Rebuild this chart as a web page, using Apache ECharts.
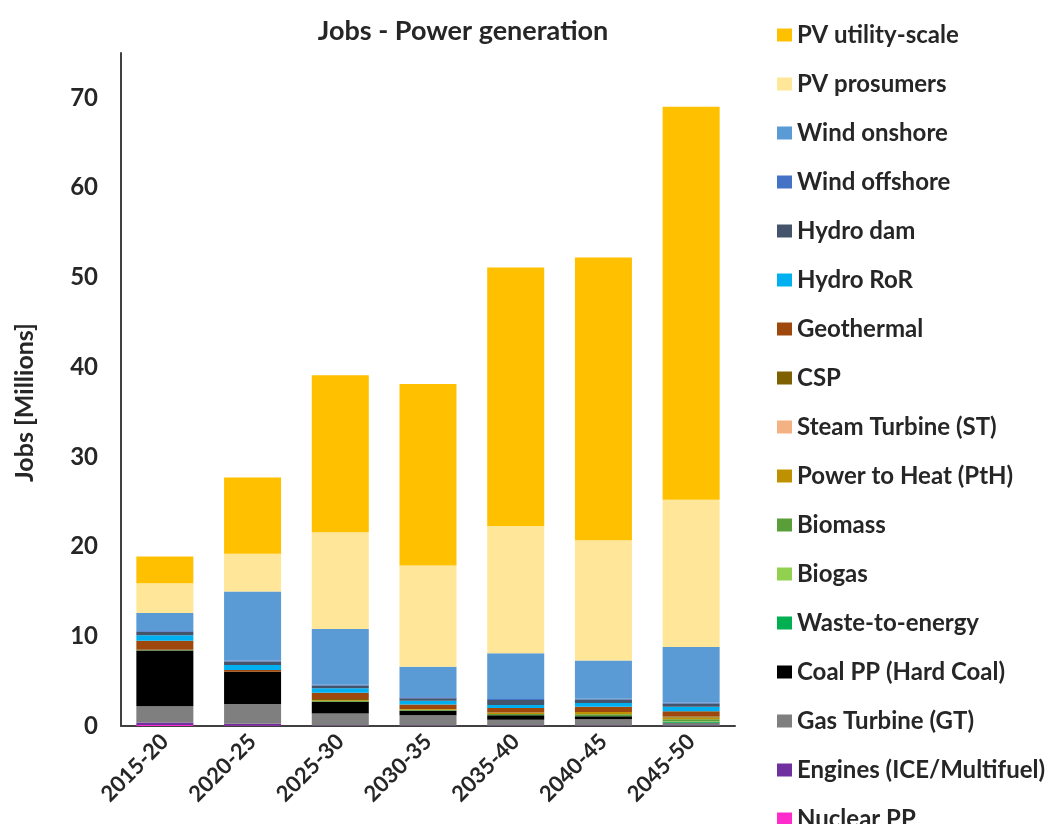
<!DOCTYPE html>
<html><head><meta charset="utf-8">
<script src="https://cdn.jsdelivr.net/npm/echarts@6/dist/echarts.min.js"></script>
<style>html,body{margin:0;padding:0;background:#fff}#c{width:1053px;height:824px}</style>
</head><body><div id="c"></div>
<script>
const categories = ['2015-20','2020-25','2025-30','2030-35','2035-40','2040-45','2045-50'];
// stacked bottom-to-top
const nuclear    = [0.1, 0.05, 0,    0,    0,    0,    0];
const engines    = [0.3, 0.2,  0.05, 0.05, 0.05, 0.05, 0.05];
const gasTurbine = [1.8, 2.2,  1.35, 1.15, 0.65, 0.7,  0.25];
const coal       = [6.2, 3.6,  1.3,  0.5,  0.5,  0.35, 0.05];
const waste      = [0,   0,    0,    0,    0,    0,    0.1];
const biogas     = [0,   0,    0,    0,    0,    0,    0.05];
const biomass    = [0.1, 0,    0.1,  0.1,  0.15, 0.2,  0.25];
const pth        = [0,   0,    0.1,  0.1,  0.15, 0.25, 0.2];
const steam      = [0,   0,    0,    0,    0,    0,    0];
const csp        = [0,   0,    0.1,  0,    0,    0,    0.1];
const geothermal = [1.0, 0.2,  0.7,  0.5,  0.5,  0.6,  0.6];
const hydroRoR   = [0.6, 0.55, 0.5,  0.4,  0.35, 0.4,  0.5];
const hydroDam   = [0.4, 0.4,  0.3,  0.3,  0.55, 0.4,  0.35];
const windOff    = [0.1, 0.1,  0.1,  0.1,  0.1,  0.1,  0.1];
const windOn     = [2.0, 7.7,  6.2,  3.4,  5.1,  4.25, 6.2];
const pvProsumer = [3.3, 4.2,  10.8, 11.3, 14.2, 13.4, 16.4];
const pvUtility  = [3.0, 8.5,  17.5, 20.2, 28.8, 31.5, 43.8];
const yTicks = [0,10,20,30,40,50,60,70];

const seriesDefs = [
  ['Nuclear PP', nuclear, '#FF2BCB'],
  ['Engines (ICE/Multifuel)', engines, '#7030A0'],
  ['Gas Turbine (GT)', gasTurbine, '#7F7F7F'],
  ['Coal PP (Hard Coal)', coal, '#000000'],
  ['Waste-to-energy', waste, '#00B050'],
  ['Biogas', biogas, '#92D050'],
  ['Biomass', biomass, '#5A9E3A'],
  ['Power to Heat (PtH)', pth, '#BF9000'],
  ['Steam Turbine (ST)', steam, '#F4B183'],
  ['CSP', csp, '#7F6000'],
  ['Geothermal', geothermal, '#9E480E'],
  ['Hydro RoR', hydroRoR, '#00B0F0'],
  ['Hydro dam', hydroDam, '#44546A'],
  ['Wind offshore', windOff, '#4472C4'],
  ['Wind onshore', windOn, '#5B9BD5'],
  ['PV prosumers', pvProsumer, '#FFE699'],
  ['PV utility-scale', pvUtility, '#FFC000']
];
const FONT = 'Lato';
const TXT = '#262626';
const chart = echarts.init(document.getElementById('c'));
chart.setOption({
  animation:false,
  backgroundColor:'#fff',
  title:{text:'Jobs - Power generation', left:458, top:13, textAlign:'center',
    textStyle:{fontFamily:FONT, fontWeight:'bold', fontSize:27, color:TXT}},
  legend:{
    orient:'vertical', left:777, top:23, height:900, padding:0,
    data: seriesDefs.map(s=>s[0]).reverse(),
    icon:'rect', itemWidth:15, itemHeight:13, itemGap:25,
    textStyle:{fontFamily:FONT, fontWeight:'bold', fontSize:24, color:TXT}
  },
  grid:{left:121, right:318, top:53, bottom:98, containLabel:false},
  xAxis:{type:'category', data:categories,
    axisLine:{lineStyle:{color:'#404040', width:2}}, axisTick:{show:false},
    axisLabel:{rotate:45, interval:0, margin:12, fontFamily:FONT, fontWeight:'bold', fontSize:22, color:TXT}},
  yAxis:{type:'value', min:0, max:75, interval:10,
    name:'Jobs [Millions]', nameLocation:'middle', nameGap:84, nameRotate:90,
    nameTextStyle:{fontFamily:FONT, fontWeight:'bold', fontSize:25, color:TXT, padding:[0,26,0,0]},
    axisLine:{show:true, lineStyle:{color:'#404040', width:2}}, axisTick:{show:false},
    splitLine:{show:false},
    axisLabel:{showMaxLabel:false, margin:23, fontFamily:FONT, fontWeight:'bold', fontSize:24, color:TXT,
      formatter:v=> yTicks.includes(v) ? String(v) : ''}},
  series: seriesDefs.map(([name,data,color])=>({
    name, type:'bar', stack:'a', data, barCategoryGap:'35%',
    itemStyle:{color}
  }))
});
</script></body></html>
